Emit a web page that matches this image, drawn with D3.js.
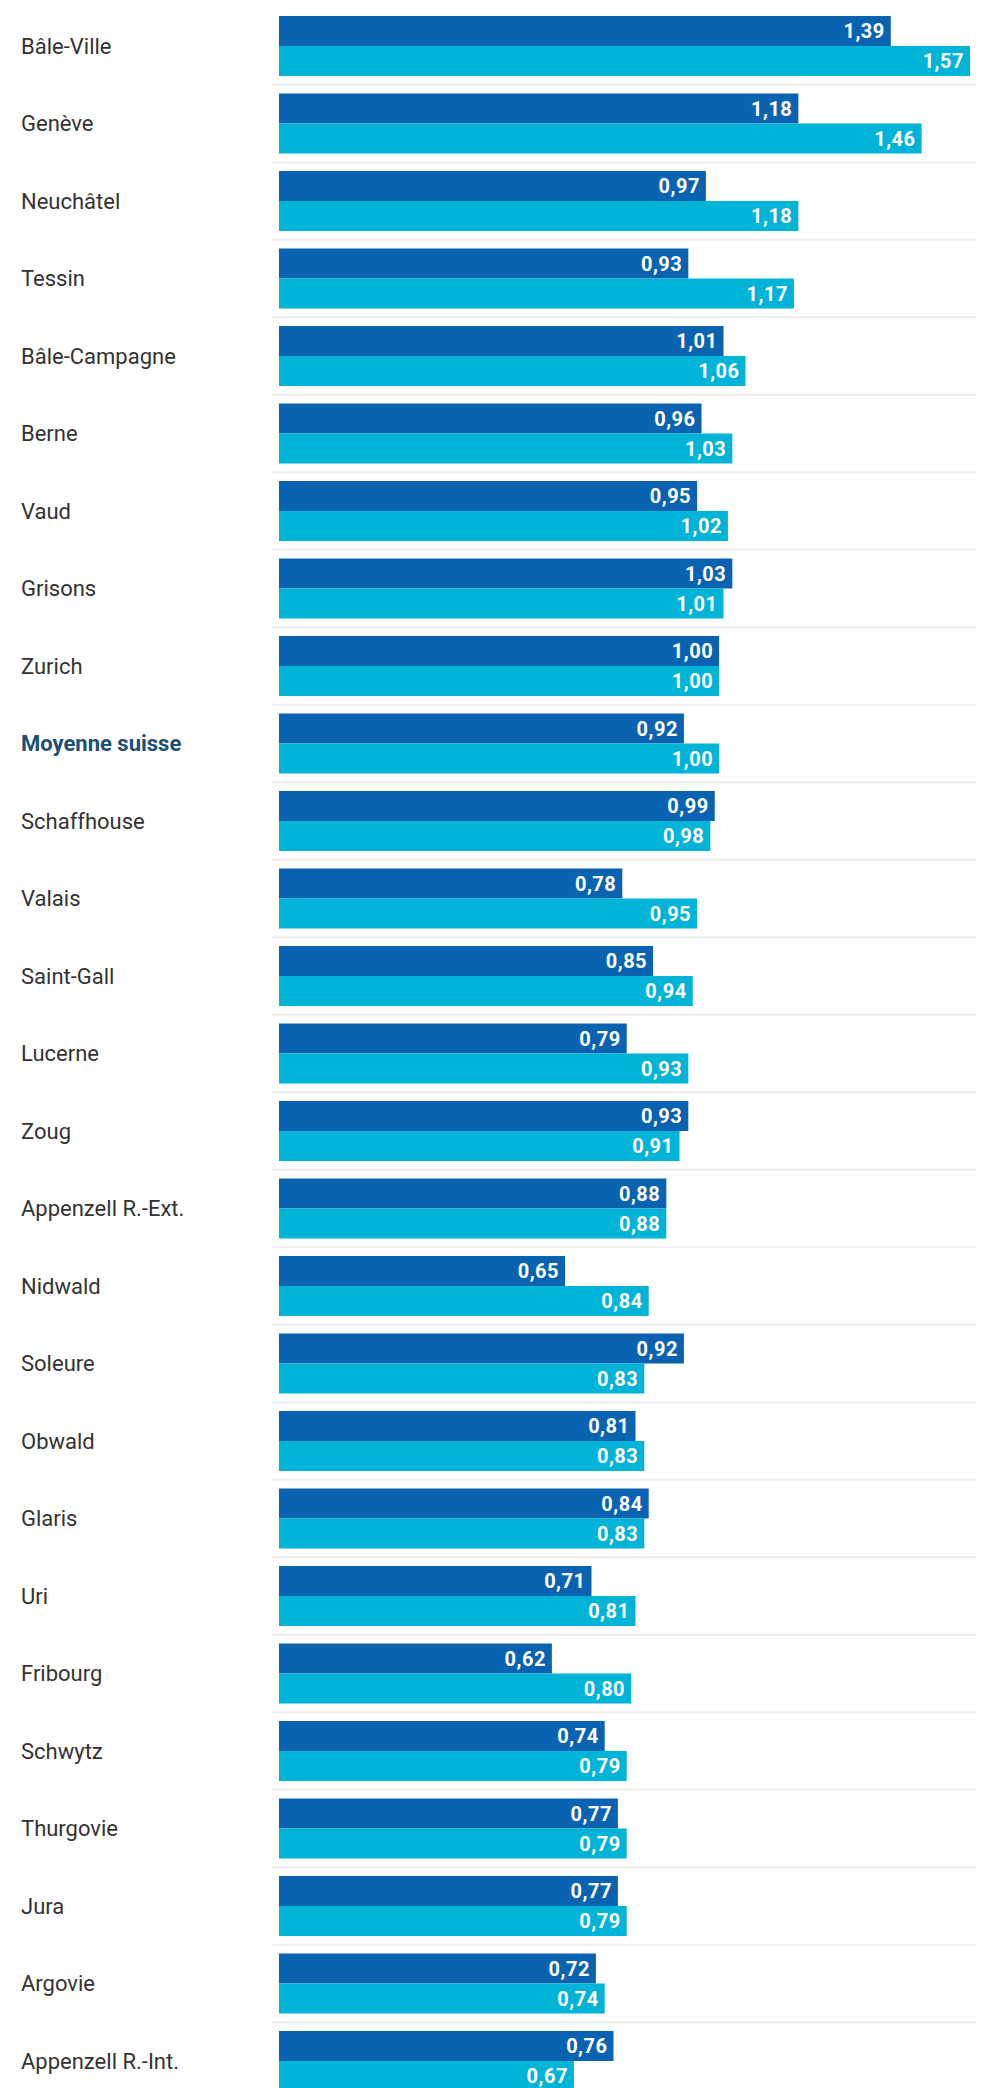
<!DOCTYPE html>
<html>
<head>
<meta charset="utf-8">
<script src="https://cdn.jsdelivr.net/npm/d3@7"></script>
<style>
    html, body { margin: 0; padding: 0; background: #fff; }
    svg { display: block; }
    .label { font-family: Roboto, 'Open Sans', sans-serif; font-size: 22px; fill: #333; }
    .label.avg { font-weight: 700; fill: #1d4f73; }
    .value { font-family: Roboto, 'Open Sans', sans-serif; font-size: 20px; font-weight: 700; fill: #fff; letter-spacing: 0.5px; }
</style>
</head>
<body>
<svg id="chart"></svg>
<script>
// cantons, top to bottom
const cantons = [
    'Bâle-Ville', 'Genève', 'Neuchâtel', 'Tessin', 'Bâle-Campagne', 'Berne', 'Vaud',
    'Grisons', 'Zurich', 'Moyenne suisse', 'Schaffhouse', 'Valais', 'Saint-Gall',
    'Lucerne', 'Zoug', 'Appenzell R.-Ext.', 'Nidwald', 'Soleure', 'Obwald', 'Glaris',
    'Uri', 'Fribourg', 'Schwytz', 'Thurgovie', 'Jura', 'Argovie', 'Appenzell R.-Int.',
];
// dark bar (upper)
const valuesDark = [
    1.39, 1.18, 0.97, 0.93, 1.01, 0.96, 0.95, 1.03, 1.00, 0.92, 0.99, 0.78, 0.85,
    0.79, 0.93, 0.88, 0.65, 0.92, 0.81, 0.84, 0.71, 0.62, 0.74, 0.77, 0.77, 0.72, 0.76,
];
// light bar (lower)
const valuesLight = [
    1.57, 1.46, 1.18, 1.17, 1.06, 1.03, 1.02, 1.01, 1.00, 1.00, 0.98, 0.95, 0.94,
    0.93, 0.91, 0.88, 0.84, 0.83, 0.83, 0.83, 0.81, 0.80, 0.79, 0.79, 0.79, 0.74, 0.67,
];
const seriesKeys = ['dark', 'light'];
const highlight = 'Moyenne suisse';

const width = 993;
const height = 2088;
const colors = { dark: '#0a63b1', light: '#00b4d8' };

const svg = d3.select('#chart').attr('width', width).attr('height', height);

const x = d3.scaleLinear().domain([ 0, 1.57 ]).range([ 279, 970 ]);

const step = 77.5;
const y = d3.scaleBand()
    .domain(cantons)
    .range([ 16, 16 + cantons.length * step - 17.5 ])
    .paddingInner(17.5 / step)
    .paddingOuter(0);

const ySub = d3.scaleBand().domain(seriesKeys).range([ 0, y.bandwidth() ]);

const rows = cantons.map((c, i) => ({
    canton: c,
    dark: valuesDark[i],
    light: valuesLight[i],
}));

// separators between rows
svg.append('g')
    .selectAll('line')
    .data(cantons.slice(1))
    .enter()
    .append('line')
    .attr('x1', 272)
    .attr('x2', 976)
    .attr('y1', (d) => y(d) - (step - y.bandwidth()) / 2)
    .attr('y2', (d) => y(d) - (step - y.bandwidth()) / 2)
    .attr('stroke', '#eceff1')
    .attr('stroke-width', 2);

const rowG = svg.append('g')
    .selectAll('.row')
    .data(rows)
    .enter()
    .append('g')
    .attr('class', 'row')
    .attr('transform', (d) => `translate(0, ${ y(d.canton) })`);

rowG.append('text')
    .attr('class', (d) => (d.canton === highlight ? 'label avg' : 'label'))
    .attr('x', 21)
    .attr('y', y.bandwidth() / 2)
    .attr('dy', '0.35em')
    .text((d) => d.canton);

seriesKeys.forEach((key) => {
    rowG.append('rect')
        .attr('x', x(0))
        .attr('y', ySub(key))
        .attr('width', (d) => x(d[key]) - x(0))
        .attr('height', ySub.bandwidth())
        .attr('fill', colors[key]);

    rowG.append('text')
        .attr('class', 'value')
        .attr('x', (d) => x(d[key]) - 6)
        .attr('y', ySub(key) + ySub.bandwidth() / 2)
        .attr('dy', '0.36em')
        .style('text-anchor', 'end')
        .text((d) => d[key].toFixed(2).replace('.', ','));
});
</script>
</body>
</html>
